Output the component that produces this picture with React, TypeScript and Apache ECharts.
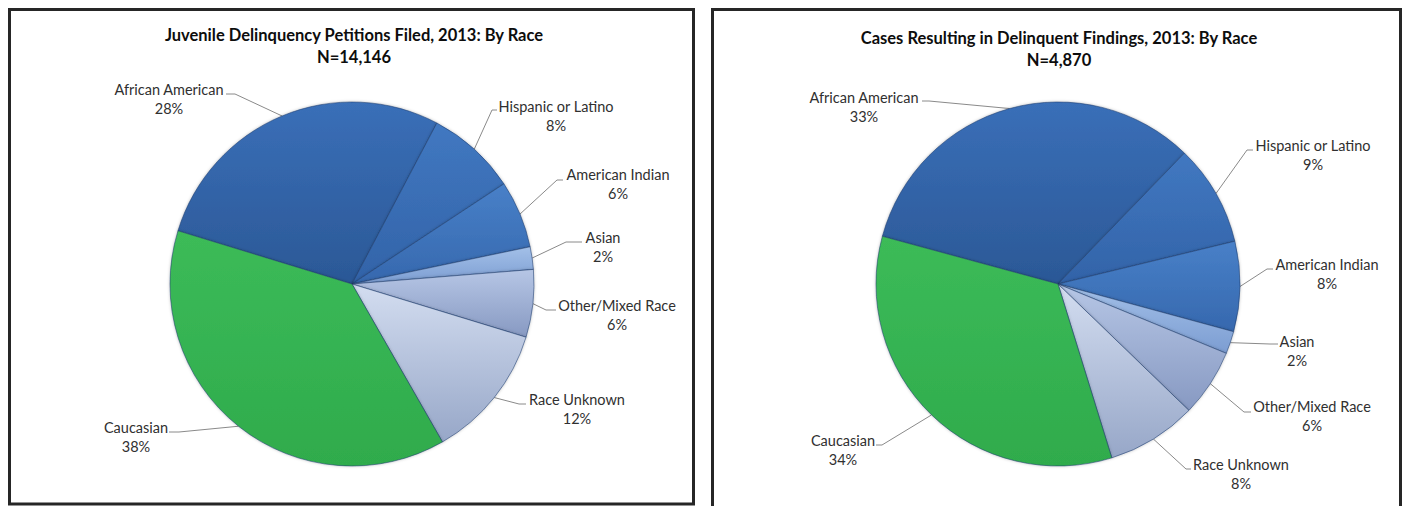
import React, { useEffect, useRef } from 'react';
import * as echarts from 'echarts';

// ---------- data ----------
const CATEGORIES = [
  'African American',
  'Hispanic or Latino',
  'American Indian',
  'Asian',
  'Other/Mixed Race',
  'Race Unknown',
  'Caucasian',
];
const PETITIONS_PCT = [28, 8, 6, 2, 6, 12, 38];
const FINDINGS_PCT = [33, 9, 8, 2, 6, 8, 34];

const PETITIONS_TITLE = 'Juvenile Delinquency Petitions Filed, 2013: By Race';
const PETITIONS_N = 'N=14,146';
const FINDINGS_TITLE = 'Cases Resulting in Delinquent Findings, 2013: By Race';
const FINDINGS_N = 'N=4,870';

// ---------- styles / layout ----------
const FONT = 'Lato, "Noto Sans", sans-serif';
const LABEL_SIZE = 14.5;
const LABEL_LH = 19;

const SLICE_COLORS: [string, string][] = [
  ['#3a6fb8', '#2b5896'],
  ['#4178c1', '#3263a8'],
  ['#4880c8', '#3668ae'],
  ['#a3c0e8', '#7c9dd2'],
  ['#b6c6e5', '#8799c2'],
  ['#d3ddf0', '#97a7c8'],
  ['#3cbb58', '#2fab4c'],
];

// label layout: [textCenterX, firstLineCenterY, bendX, lineY, endX]
const PETITIONS_LABEL_LAYOUT = [
  [169, 89, 235, 94, 226],
  [556, 106, 492, 110, 497],
  [618, 174, 557, 180, 563],
  [603, 237, 566, 242, 582],
  [617, 305, 546, 310, 556],
  [577, 399, 519, 404, 526],
  [136, 427, 179, 432, 169],
];
const FINDINGS_LABEL_LAYOUT = [
  [864, 97, 929, 101, 922],
  [1313, 145, 1247, 150, 1253],
  [1327, 264, 1267, 269, 1273],
  [1297, 341, 1270, 344, 1278],
  [1312, 406, 1244, 412, 1251],
  [1241, 464, 1186, 469, 1191],
  [843, 440, 882, 445, 876],
];

function makeSeries(
  values: number[],
  center: [number, number],
  startAngle: number,
  layout: number[][]
) {
  return {
    type: 'pie',
    center,
    radius: 182,
    startAngle,
    clockwise: true,
    avoidLabelOverlap: false,
    silent: true,
    data: CATEGORIES.map((name, i) => ({
      name,
      value: values[i],
      itemStyle: {
        color: new echarts.graphic.LinearGradient(0, 0, 0, 1, [
          { offset: 0, color: SLICE_COLORS[i][0] },
          { offset: 1, color: SLICE_COLORS[i][1] },
        ]),
      },
    })),
    itemStyle: {
      borderColor: 'rgba(30,60,110,0.55)',
      borderWidth: 1,
      shadowBlur: 3,
      shadowColor: 'rgba(0,0,0,0.25)',
    },
    label: {
      show: true,
      position: 'outside',
      formatter: (p: any) => `${p.name}\n${p.value}%`,
      fontFamily: FONT,
      fontSize: LABEL_SIZE,
      lineHeight: LABEL_LH,
      color: '#303030',
    },
    labelLine: {
      show: true,
      smooth: false,
      lineStyle: { color: '#8a8a8a', width: 1 },
    },
    labelLayout: (p: any) => {
      const L = layout[p.dataIndex];
      const anchor =
        p.labelLinePoints && p.labelLinePoints[0]
          ? p.labelLinePoints[0]
          : [L[2], L[3]];
      return {
        x: L[0],
        y: L[1] - LABEL_LH / 2,
        align: 'center',
        verticalAlign: 'top',
        labelLinePoints: [anchor, [L[2], L[3]], [L[4], L[3]]],
      };
    },
  };
}

function titleText(x: number, y: number, main: string, n: string) {
  return {
    type: 'text',
    x,
    y,
    style: {
      text: `${main}\n${n}`,
      align: 'center',
      verticalAlign: 'top',
      fontFamily: FONT,
      fontWeight: 'bold',
      fontSize: 16.5,
      lineHeight: 22,
      fill: '#0d0d0d',
    },
  };
}

export default function App() {
  const ref = useRef<HTMLDivElement>(null);
  useEffect(() => {
    if (!ref.current) return;
    const chart = echarts.init(ref.current, undefined, { renderer: 'svg' });
    chart.setOption({
      animation: false,
      backgroundColor: '#ffffff',
      graphic: [
        {
          type: 'rect',
          shape: { x: 9.5, y: 9.5, width: 684, height: 494.5 },
          style: { fill: 'none', stroke: '#262626', lineWidth: 3 },
          z: 10,
        },
        {
          type: 'rect',
          shape: { x: 712.5, y: 9.5, width: 688, height: 510 },
          style: { fill: 'none', stroke: '#262626', lineWidth: 3 },
          z: 10,
        },
        titleText(354, 24, PETITIONS_TITLE, PETITIONS_N),
        titleText(1059, 27, FINDINGS_TITLE, FINDINGS_N),
      ],
      series: [
        makeSeries(PETITIONS_PCT, [352, 284], 163, PETITIONS_LABEL_LAYOUT),
        makeSeries(FINDINGS_PCT, [1058, 284], 164.8, FINDINGS_LABEL_LAYOUT),
      ],
    });
    return () => chart.dispose();
  }, []);
  return (
    <div
      ref={ref}
      style={{ position: 'fixed', left: 0, top: 0, width: 1407, height: 506 }}
    />
  );
}
